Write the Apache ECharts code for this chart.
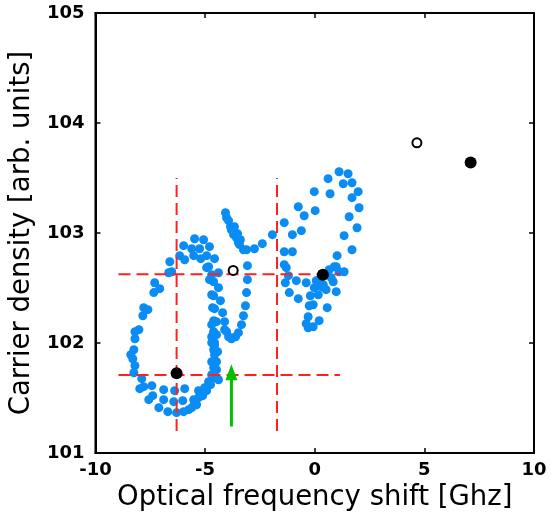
<!DOCTYPE html>
<html>
<head>
<meta charset="utf-8">
<script src="https://cdn.jsdelivr.net/npm/echarts@6/dist/echarts.min.js"></script>
<style>
  html, body { margin: 0; padding: 0; background: #fff; }
  #chart { width: 551px; height: 523px; }
</style>
</head>
<body>
<div id="chart"></div>
<script>
// measured points, [shift GHz, carrier density]
const jLoop = [
  [-5.48,102.948],[-5.07,102.939],[-5.98,102.885],[-5.61,102.857],[-5.25,102.857],[-4.80,102.876],
  [-6.16,102.794],[-5.93,102.757],[-5.52,102.794],[-5.20,102.767],[-4.93,102.794],[-4.57,102.767],
  [-6.61,102.739],[-6.52,102.648],[-6.66,102.639],
  [-7.30,102.548],[-7.07,102.494],[-7.34,102.458],[-7.80,102.321],[-7.61,102.303],[-7.84,102.248],
  [-8.20,102.103],[-8.02,102.121],[-8.20,102.039],[-8.25,101.939],[-8.39,101.894],[-8.30,101.857],
  [-8.20,101.794],[-8.25,101.730],[-7.89,101.676],
  [-7.98,101.585],[-7.80,101.603],[-7.43,101.612],[-6.89,101.576],[-6.39,101.567],[-5.93,101.585],
  [-7.57,101.485],[-7.39,101.521],[-6.89,101.485],[-6.43,101.467],[-6.02,101.476],
  [-7.11,101.412],[-6.70,101.376],[-6.30,101.367],[-5.98,101.376],
  [-5.75,101.394],[-5.61,101.412],[-5.52,101.485],[-5.48,101.458],[-5.39,101.439],[-5.30,101.503],
  [-5.30,101.567],[-5.16,101.548],[-5.11,101.521],[-5.02,101.594],[-4.93,101.567],[-4.84,101.648],
  [-4.75,101.621],[-4.70,101.712],[-4.57,101.685],[-4.61,101.776],[-4.70,101.830],[-4.57,101.894],
  [-4.61,101.939],[-4.57,102.003],[-4.70,102.057],[-4.61,102.103],[-4.70,102.167],
  [-4.43,101.921],[-4.48,101.830],[-4.48,101.757],[-4.39,101.666],
  [-4.93,102.685],[-4.84,102.694],[-4.70,102.621],[-4.80,102.576],[-4.61,102.557],[-4.70,102.439],
  [-4.61,102.430],[-4.66,102.321],[-4.57,102.312],[-4.61,102.203],[-4.48,102.194],[-4.61,102.094],
  [-4.48,102.076],[-4.70,102.003],[-4.57,101.976]
];

const vLoop = [
  [-4.39,102.639],[-4.39,102.503],[-4.30,102.385],[-4.20,102.276],[-4.11,102.194],[-4.11,102.121],
  [-4.02,102.103],[-3.93,102.057],[-3.80,102.039],[-3.61,102.057],[-3.48,102.094],[-3.34,102.167],
  [-3.25,102.248],[-3.16,102.339],[-3.11,102.458],[-3.07,102.576],[-3.07,102.703],
  [-4.07,103.185],[-4.02,103.139],[-3.93,103.112],[-3.84,103.057],[-3.66,103.057],[-3.80,103.030],
  [-3.70,102.985],[-3.52,102.994],[-3.57,102.957],[-3.39,102.939],[-3.48,102.912],[-3.43,102.894],
  [-3.25,102.848],[-3.11,102.848],[-2.75,102.857],[-2.39,102.903],[-1.93,102.985]
];

const rightLoop = [
  [1.11,103.557],[1.52,103.539],[0.61,103.494],[1.30,103.448],[1.70,103.457],[-0.02,103.376],
  [0.70,103.357],[1.98,103.376],[1.70,103.321],[-0.75,103.239],[0.02,103.203],[2.02,103.230],
  [-0.48,103.157],[1.57,103.148],[-1.39,103.094],[1.93,103.048],[-0.61,103.021],[-1.02,102.985],
  [1.34,102.976],[1.70,102.848],[-1.39,102.830],[-1.02,102.830],[1.02,102.794],
  [-1.39,102.712],[-1.30,102.685],[-1.20,102.612],[-1.34,102.548],[-0.84,102.567],[-0.39,102.548],
  [0.07,102.567],[0.89,102.694],[0.66,102.666],[0.98,102.694],[1.11,102.648],[1.34,102.648],
  [0.84,102.557],[-0.02,102.503],[0.30,102.512],[0.52,102.485],[0.98,102.467],[-1.16,102.458],
  [-0.75,102.403],[-0.20,102.430],[0.16,102.439],[-0.07,102.348],[-0.25,102.339],[0.57,102.321],
  [-0.30,102.239],[0.20,102.203],[-0.39,102.176],[-0.30,102.139],[-0.07,102.148],
  [0.52,102.621],[0.75,102.594],[0.20,102.576],[0.39,102.530]
];

const solidDots = [[-6.30,101.725],[0.37,102.62],[7.11,103.64]];
const openDots = [[-3.72,102.66],[4.66,103.82]];

// dashed guides
const guideX = [-6.30, -1.72];
const guideXSpan = [101.2, 103.5];
const guideY = [102.625, 101.71];
const guideYSpan = [-8.95, 1.15];

// green arrow
const arrowX = -3.80;
const arrowFrom = 101.24;
const arrowTo = 101.70;
const arrowHead = 101.735;

const xTicks = { min: -10, max: 10, step: 5 };
const yTicks = { min: 101, max: 105, step: 1 };

const chart = echarts.init(document.getElementById('chart'), null, { renderer: 'canvas' });

const blue = '#0a8cf5';
const red = '#ff2020';
const labelFont = { fontFamily: 'DejaVu Sans', fontWeight: 'bold', fontSize: 18, color: '#000' };
const nameFont = { fontFamily: 'DejaVu Sans', fontSize: 27.5, color: '#000' };
const frameLine = { show: true, onZero: false, lineStyle: { color: '#000', width: 2 } };
const frameTick = { show: true, inside: true, length: 5, lineStyle: { color: '#000', width: 1.5 } };

const guideSeries = [];
guideX.forEach(x => {
  guideSeries.push({
    type: 'line', symbol: 'none', z: 3, silent: true,
    data: [[x, guideXSpan[0]], [x, guideXSpan[1]]],
    lineStyle: { color: red, width: 2, type: [12, 6] }
  });
});
guideY.forEach(y => {
  guideSeries.push({
    type: 'line', symbol: 'none', z: 3, silent: true,
    data: [[guideYSpan[0], y], [guideYSpan[1], y]],
    lineStyle: { color: red, width: 2, type: [12, 6] }
  });
});

const option = {
  animation: false,
  backgroundColor: '#fff',
  grid: { left: 93, right: 17, top: 13, bottom: 70, show: true, borderColor: '#000', borderWidth: 2 },
  xAxis: [
    {
      type: 'value', min: xTicks.min, max: xTicks.max, interval: xTicks.step, position: 'bottom',
      name: 'Optical frequency shift [Ghz]', nameLocation: 'middle', nameGap: 31, nameTextStyle: nameFont,
      axisLine: frameLine, axisTick: frameTick,
      axisLabel: Object.assign({ margin: 8 }, labelFont),
      splitLine: { show: false }
    },
    {
      type: 'value', min: xTicks.min, max: xTicks.max, interval: xTicks.step, position: 'top',
      axisLine: frameLine, axisTick: frameTick,
      axisLabel: { show: false }, splitLine: { show: false }
    }
  ],
  yAxis: [
    {
      type: 'value', min: yTicks.min, max: yTicks.max, interval: yTicks.step, position: 'left',
      name: 'Carrier density [arb. units]', nameLocation: 'middle', nameGap: 45, nameTextStyle: nameFont,
      axisLine: frameLine, axisTick: frameTick,
      axisLabel: Object.assign({ margin: 11, padding: [6, 0, 0, 0] }, labelFont),
      splitLine: { show: false }
    },
    {
      type: 'value', min: yTicks.min, max: yTicks.max, interval: yTicks.step, position: 'right',
      axisLine: frameLine, axisTick: frameTick,
      axisLabel: { show: false }, splitLine: { show: false }
    }
  ],
  series: [
    { type: 'scatter', z: 2, symbolSize: 9, itemStyle: { color: blue, opacity: 1 }, data: jLoop },
    { type: 'scatter', z: 2, symbolSize: 9, itemStyle: { color: blue, opacity: 1 }, data: vLoop },
    { type: 'scatter', z: 2, symbolSize: 9, itemStyle: { color: blue, opacity: 1 }, data: rightLoop },
    ...guideSeries,
    { type: 'scatter', z: 5, symbolSize: 12, itemStyle: { color: '#000', opacity: 1 }, data: solidDots },
    { type: 'scatter', z: 5, symbolSize: 9, itemStyle: { color: '#fff', borderColor: '#000', borderWidth: 2, opacity: 1 }, data: openDots },
    {
      type: 'line', symbol: 'none', z: 4, silent: true,
      data: [[arrowX, arrowFrom], [arrowX, arrowTo]],
      lineStyle: { color: '#00c000', width: 3 }
    },
    {
      type: 'scatter', z: 4, symbol: 'triangle', symbolSize: [12, 16],
      itemStyle: { color: '#00c000', opacity: 1 }, data: [[arrowX, arrowHead]]
    }
  ]
};
chart.setOption(option);
</script>
</body>
</html>
